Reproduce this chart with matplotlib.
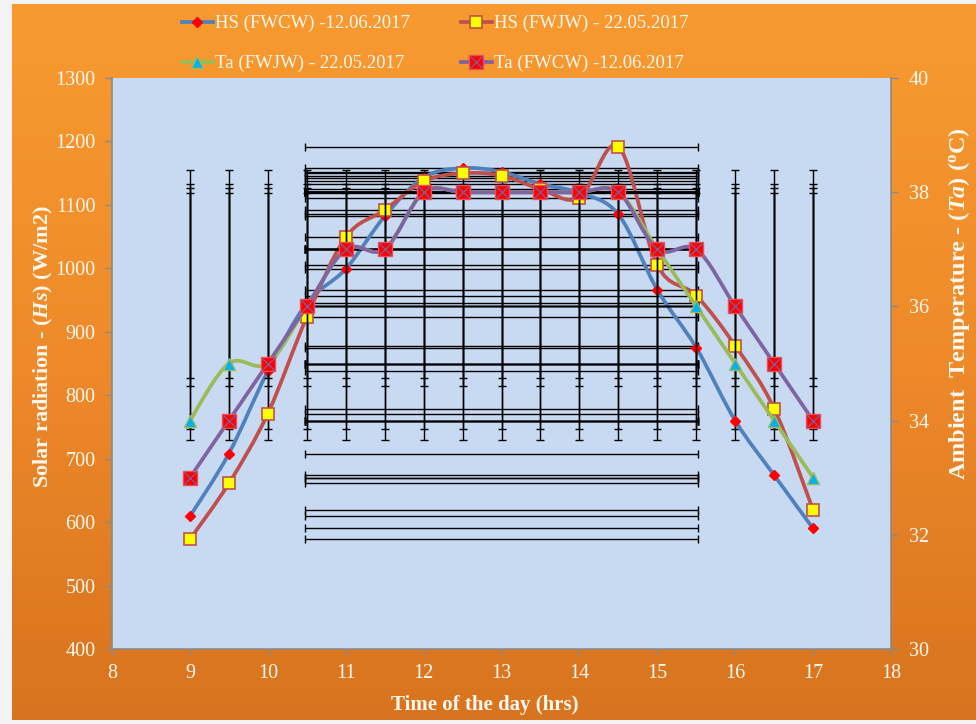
import numpy as np
import matplotlib
matplotlib.use("Agg")
import matplotlib.pyplot as plt
from matplotlib.path import Path
from matplotlib.patches import PathPatch
from matplotlib.lines import Line2D
from matplotlib.colors import LinearSegmentedColormap

# ---- data -------------------------------------------------------------
hours = [9, 9.5, 10, 10.5, 11, 11.5, 12, 12.5, 13, 13.5, 14, 14.5, 15, 15.5, 16, 16.5, 17]
hs_fwcw = [609, 708, 838, 945, 999, 1082, 1143, 1158, 1152, 1133, 1119, 1085, 966, 875, 760, 674, 590]
hs_fwjw = [573, 661, 771, 923, 1049, 1092, 1137, 1150, 1146, 1125, 1111, 1192, 1005, 957, 878, 779, 619]
ta_fwjw = [34, 35, 35, 36, 37, 37, 38, 38, 38, 38, 38, 38, 37, 36, 35, 34, 33]
ta_fwcw = [33, 34, 35, 36, 37, 37, 38, 38, 38, 38, 38, 38, 37, 37, 36, 35, 34]

series_labels = ["HS (FWCW) -12.06.2017", "HS (FWJW) - 22.05.2017",
                 "Ta (FWJW) - 22.05.2017", "Ta (FWCW) -12.06.2017"]
x_ticks = list(range(8, 19))
hs_ticks = list(range(400, 1301, 100))
ta_ticks = list(range(30, 41, 2))

# ---- style ------------------------------------------------------------
SERIF = "Liberation Serif"
plt.rcParams["font.family"] = [SERIF, "DejaVu Serif"]
plt.rcParams["mathtext.fontset"] = "custom"
plt.rcParams["mathtext.rm"] = "Liberation Serif:bold"
plt.rcParams["mathtext.bf"] = "Liberation Serif:bold"
plt.rcParams["mathtext.it"] = "Liberation Serif:italic:bold"
plt.rcParams["mathtext.bfit"] = "Liberation Serif:italic:bold"

TXT = "#FFF8EE"
AXIS_GRAY = "#8A8A8A"
C_BLUE, C_RED, C_GREEN, C_PURPLE = "#4F81BD", "#C0504D", "#9BBB59", "#8064A2"
LW = 2.7


def smooth_path(x, y):
    """Cubic Bezier curve through the points (Catmull-Rom style smoothing)."""
    p = np.column_stack([x, y]).astype(float)
    n = len(p)
    verts, codes = [p[0]], [Path.MOVETO]
    for i in range(n - 1):
        p_prev = p[i - 1] if i > 0 else p[i]
        p_next = p[i + 2] if i + 2 < n else p[i + 1]
        c1 = p[i] + (p[i + 1] - p_prev) / 6.0
        c2 = p[i + 1] - (p_next - p[i]) / 6.0
        verts += [c1, c2, p[i + 1]]
        codes += [Path.CURVE4] * 3
    return Path(verts, codes)


def sd_error_bars(axis, x, y):
    """Standard-deviation error bars centred on the series means."""
    x = np.asarray(x, float)
    y = np.asarray(y, float)
    kw = dict(fmt="none", ecolor="black", elinewidth=1.0, capsize=3, capthick=1.0, zorder=2)
    axis.errorbar(x, np.full_like(x, y.mean()), yerr=y.std(ddof=1), **kw)
    axis.errorbar(np.full_like(y, x.mean()), y, xerr=x.std(ddof=1), **kw)


def smooth_line(axis, x, y, color):
    axis.add_patch(PathPatch(smooth_path(x, y), facecolor="none", edgecolor=color,
                             lw=LW, capstyle="round", joinstyle="round", zorder=3))


# ---- figure & background ---------------------------------------------
fig = plt.figure(figsize=(9.76, 7.24), dpi=100, facecolor="#F3F3F3")
W, H = 976, 724

bg = fig.add_axes([12 / W, 4 / H, 964 / W, 716 / H], zorder=0)
bg.set_axis_off()
cmap = LinearSegmentedColormap.from_list("frame", ["#F89A30", "#EE8A2A", "#D8731F"])
bg.imshow(np.linspace(0, 1, 256)[:, None], cmap=cmap, aspect="auto")

ax = fig.add_axes([112 / W, 1 - 649 / H, (891 - 112) / W, (649 - 78) / H], zorder=1)
ax.set_facecolor("#C8DAF2")
ax2 = ax.twinx()
ax2.set_zorder(2)

# ---- solar radiation (left axis) --------------------------------------
sd_error_bars(ax, hours, hs_fwcw)
sd_error_bars(ax, hours, hs_fwjw)
smooth_line(ax, hours, hs_fwcw, C_BLUE)
ax.plot(hours, hs_fwcw, ls="none", marker="D", ms=5, mfc="#FF0000", mec="#FF0000", zorder=4)
smooth_line(ax, hours, hs_fwjw, C_RED)
ax.plot(hours, hs_fwjw, ls="none", marker="s", ms=8.5, mfc="#FFFF00", mec=C_RED, mew=1.2, zorder=4)

# ---- ambient temperature (right axis) ---------------------------------
sd_error_bars(ax2, hours, ta_fwjw)
sd_error_bars(ax2, hours, ta_fwcw)
smooth_line(ax2, hours, ta_fwjw, C_GREEN)
ax2.plot(hours, ta_fwjw, ls="none", marker="^", ms=9, mfc="#00B0F0", mec=C_GREEN, mew=1.0, zorder=4)
smooth_line(ax2, hours, ta_fwcw, C_PURPLE)
ax2.plot(hours, ta_fwcw, ls="none", marker="s", ms=9.5, mfc="#FF0000", mec="#E8505A", mew=1.0, zorder=4)
ax2.plot(hours, ta_fwcw, ls="none", marker="x", ms=8.5, mec="#7A62A0", mew=0.9, zorder=5)

# ---- axes --------------------------------------------------------------
ax.set_xlim(8, 18)
ax.set_ylim(400, 1300)
ax2.set_ylim(30, 40)
ax.set_xticks(x_ticks)
ax.set_xticklabels([str(t) for t in x_ticks])
ax.set_yticks(hs_ticks)
ax2.set_yticks(ta_ticks)

for a in (ax, ax2):
    for s in a.spines.values():
        s.set_visible(False)
    a.tick_params(direction="out", length=5, width=1, color=AXIS_GRAY,
                  labelcolor=TXT, labelsize=14.5)
    for lbl in a.get_xticklabels() + a.get_yticklabels():
        lbl.set_family(SERIF)
ax.spines["left"].set_visible(True)
ax.spines["bottom"].set_visible(True)
ax2.spines["right"].set_visible(True)
for s in (ax.spines["left"], ax.spines["bottom"], ax2.spines["right"]):
    s.set_color(AXIS_GRAY)
    s.set_linewidth(1.2)
ax.tick_params(axis="y", pad=7)
ax.tick_params(axis="x", pad=6)
ax2.tick_params(axis="y", pad=8)

ax.set_xlabel("Time of the day (hrs)", fontsize=15, fontweight="bold", color=TXT, family=SERIF)
ax.xaxis.set_label_coords(0.479, -0.08)
ax.set_ylabel(r"Solar radiation - ($\mathbfit{Hs}$) (W/m2)", fontsize=16,
              fontweight="bold", color=TXT, family=SERIF)
ax.yaxis.set_label_coords(-0.073, 0.53)
ax2.set_ylabel(r"Ambient  Temperature - ($\mathbfit{Ta}$) ($^{\mathbf{o}}$C)", fontsize=17.5,
               fontweight="bold", color=TXT, family=SERIF)
ax2.yaxis.set_label_coords(1.07, 0.605)

# ---- legend -------------------------------------------------------------
h1 = Line2D([], [], color=C_BLUE, lw=LW, marker="D", ms=5, mfc="#FF0000", mec="#FF0000")
h2 = Line2D([], [], color=C_RED, lw=LW, marker="s", ms=8.5, mfc="#FFFF00", mec=C_RED, mew=1.2)
h3 = Line2D([], [], color=C_GREEN, lw=LW, marker="^", ms=9, mfc="#00B0F0", mec=C_GREEN)
h4a = Line2D([], [], color=C_PURPLE, lw=LW, marker="s", ms=9.5, mfc="#FF0000", mec="#E8505A")
h4b = Line2D([], [], ls="none", marker="x", ms=8.5, mec="#7A62A0", mew=0.9)
fig.legend(handles=[h1, h3, h2, (h4a, h4b)],
           labels=[series_labels[0], series_labels[2], series_labels[1], series_labels[3]],
           ncol=2, loc="upper left", bbox_to_anchor=(182 / W, 1 - 15 / H),
           frameon=False, prop={"family": SERIF, "size": 13.5}, labelcolor=TXT,
           handlelength=1.65, handletextpad=0.12, columnspacing=2.7, labelspacing=1.2,
           borderaxespad=0, borderpad=0)

fig.savefig("out.png", dpi=100, facecolor=fig.get_facecolor())
